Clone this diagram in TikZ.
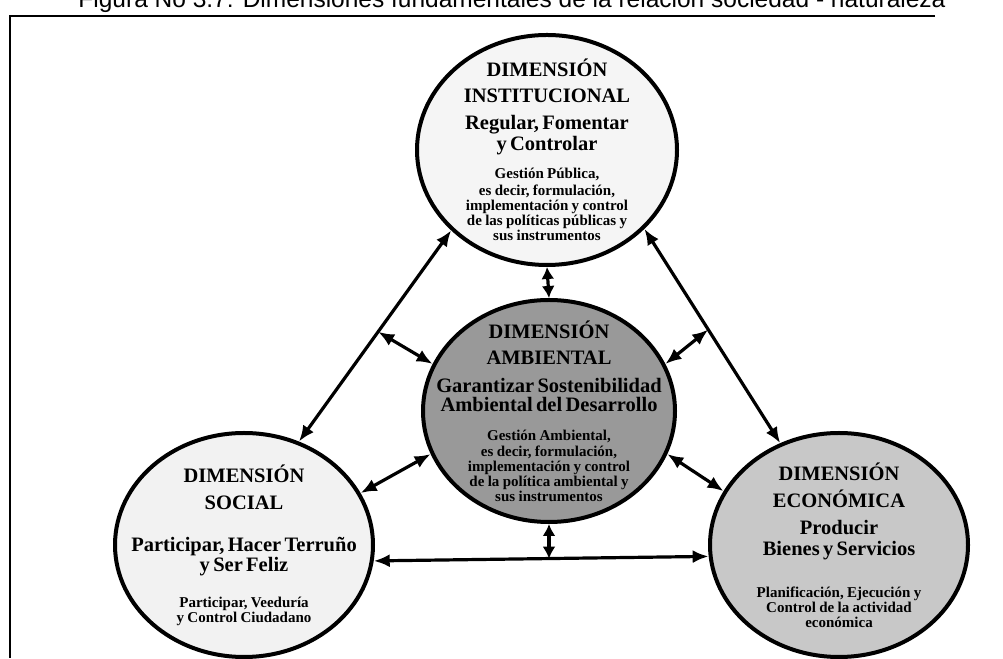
\documentclass[tikz,border=0pt]{standalone}
\usepackage{fontspec}
\setmainfont{Liberation Serif}
\newfontfamily\capfont{Liberation Sans}
\usetikzlibrary{arrows.meta, shapes.geometric, calc}
\definecolor{instfill}{HTML}{F5F5F5}
\definecolor{ambfill}{HTML}{999999}
\definecolor{socfill}{HTML}{F2F2F2}
\definecolor{ecofill}{HTML}{C8C8C8}
\newcommand{\bigtxt}{\fontsize{20.5}{21}\selectfont}
\newcommand{\smalltxt}{\fontsize{15}{15}\selectfont}

\begin{document}
\begin{tikzpicture}[
  x=1pt, y=1pt,
  dim/.style={ellipse, draw, line width=4pt, inner sep=0pt},
  dimtext/.style={text width=250pt, align=center, font=\bfseries, inner sep=0pt},
  arr/.style={{Latex[length=16pt,width=13pt]}-{Latex[length=16pt,width=13pt]}, line width=3.2pt},
  shortarr/.style={{Latex[length=12pt,width=13pt]}-{Latex[length=12pt,width=13pt]}, line width=3.2pt},
]
\useasboundingbox (0,0) rectangle (1003,658);
\clip (0,0) rectangle (1003,658);

% caption and frame
\node[font=\capfont\fontsize{24.5}{28}\selectfont, anchor=base] (cap) at (512,650)
  {Figura No 3.7: Dimensiones fundamentales de la relación sociedad - naturaleza};
\draw[line width=2pt] (935,642) -- (10,642) -- (10,0);

% the four dimensions
\node[dim, fill=instfill, minimum width=260pt, minimum height=230pt] (inst) at (547,508) {};
\node[dim, fill=ambfill, minimum width=252pt, minimum height=222pt] (amb) at (549,247) {};
\node[dim, fill=socfill, minimum width=258pt, minimum height=224pt] (soc) at (244,113) {};
\node[dim, fill=ecofill, minimum width=258pt, minimum height=224pt] (eco) at (839,113) {};

\node[dimtext] (inst-t) at (inst) {%
  {\bigtxt DIMENSIÓN\\[5pt] INSTITUCIONAL\\[6pt] Regular, Fomentar\\ y Controlar\par}
  \vspace{13pt}
  {\smalltxt Gestión Pública,\\[2pt] es decir, formulación,\\ implementación y control\\
   de las políticas públicas y\\ sus instrumentos\par}};
\node[dimtext] (amb-t) at (amb) {%
  {\bigtxt DIMENSIÓN\\[5pt] AMBIENTAL\\[7pt] Garantizar Sostenibilidad\\[-2pt] Ambiental del Desarrollo\par}
  \vspace{14pt}
  {\smalltxt Gestión Ambiental,\\[1pt] es decir, formulación,\\ implementación y control\\
   de la política ambiental y\\ sus instrumentos\par}};
\node[dimtext] (soc-t) at (soc) {%
  {\bigtxt DIMENSIÓN\\[6pt] SOCIAL\\[21pt] Participar, Hacer Terruño\\[-1pt] y Ser Feliz\par}
  \vspace{21pt}
  {\smalltxt Participar, Veeduría\\ y Control Ciudadano\par}};
\node[dimtext] (eco-t) at (eco) {%
  {\bigtxt DIMENSIÓN\\[6pt] ECONÓMICA\\[6pt] Producir\\ Bienes y Servicios\par}
  \vspace{27pt}
  {\smalltxt Planificación, Ejecución y\\ Control de la actividad\\ económica\par}};

% relations
\draw[arr] (soc.62) -- (inst.220) coordinate[pos=0.52] (lmid);
\draw[arr] (inst.321) -- (eco.120) coordinate[pos=0.47] (rmid);
\draw[arr] (soc.-7) -- (eco.185) coordinate[pos=0.5] (bmid);
\draw[shortarr] (inst.south) -- (amb.north);
\draw[shortarr] (amb.south) -- (amb.south |- bmid);
\draw[arr] (lmid) -- (amb.158);
\draw[arr] (rmid) -- (amb.22);
\draw[arr] (amb.200) -- (soc.24);
\draw[arr] (amb.340) -- (eco.155);
\end{tikzpicture}
\end{document}
